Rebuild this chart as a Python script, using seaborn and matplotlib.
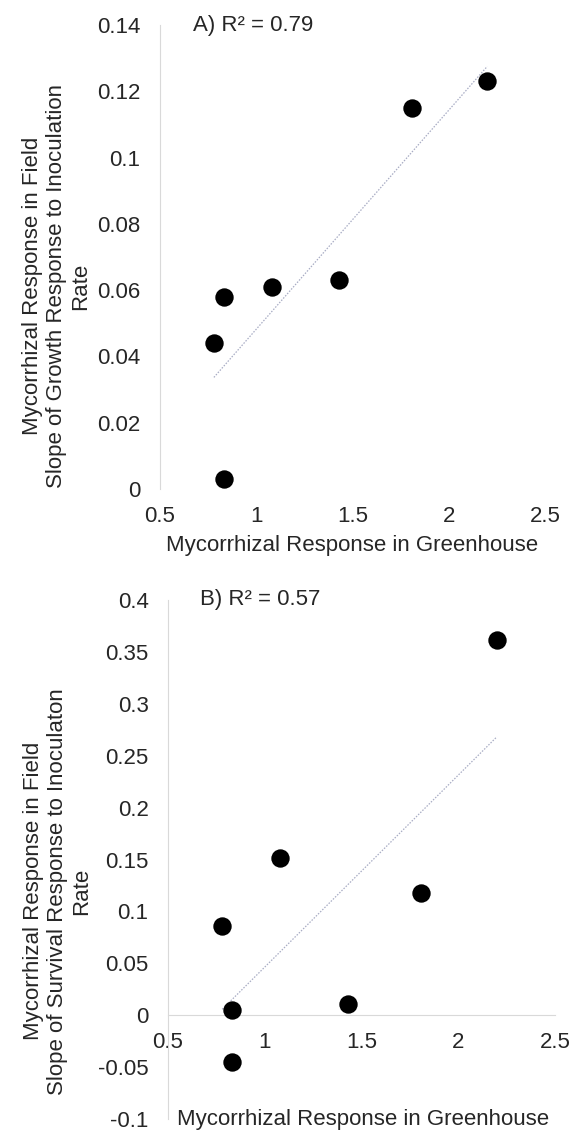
import numpy as np
import pandas as pd
import matplotlib
matplotlib.use("Agg")
import matplotlib.pyplot as plt
import seaborn as sns

# ---- data ----
greenhouse = [0.78, 0.83, 0.83, 1.08, 1.43, 1.81, 2.20]
growth_slope = [0.044, 0.058, 0.003, 0.061, 0.063, 0.115, 0.123]
survival_slope = [0.086, 0.005, -0.045, 0.151, 0.011, 0.118, 0.361]

x_ticks = [0.5, 1, 1.5, 2, 2.5]
x_tick_labels = ["0.5", "1", "1.5", "2", "2.5"]
yA_ticks = [0, 0.02, 0.04, 0.06, 0.08, 0.1, 0.12, 0.14]
yA_tick_labels = ["0", "0.02", "0.04", "0.06", "0.08", "0.1", "0.12", "0.14"]
yB_ticks = [-0.1, -0.05, 0, 0.05, 0.1, 0.15, 0.2, 0.25, 0.3, 0.35, 0.4]
yB_tick_labels = ["-0.1", "-0.05", "0", "0.05", "0.1", "0.15", "0.2", "0.25", "0.3", "0.35", "0.4"]

titleA = "A) R² = 0.79"
titleB = "B) R² = 0.57"
xlabel = "Mycorrhizal Response in Greenhouse"
ylabelA = "Mycorrhizal Response in Field\nSlope of Growth Response to Inoculation\nRate"
ylabelB = "Mycorrhizal Response in Field\nSlope of Survival Response to Inoculaton\nRate"

dfA = pd.DataFrame({"x": greenhouse, "y": growth_slope})
dfB = pd.DataFrame({"x": greenhouse, "y": survival_slope})

sns.set_theme(style="white")
plt.rcParams["font.family"] = ["Liberation Sans", "DejaVu Sans"]

FS = 16
TXT = "#262626"
SPINE = "#d9d9d9"
TREND = "#a8acc4"

fig = plt.figure(figsize=(5.73, 11.3), dpi=100)
axA = fig.add_axes([160 / 573, 1 - 489 / 1130, 385 / 573, 464 / 1130])
axB = fig.add_axes([168 / 573, 1 - 1119 / 1130, 387 / 573, 519 / 1130])


def style(ax, df, yticks, ylabels, ylim, title, ylab, bottom_at_zero, xlab_y, ylab_pos):
    sns.regplot(data=df, x="x", y="y", ax=ax, scatter=False, ci=None,
                line_kws=dict(color=TREND, lw=0.9, ls=(0, (1.2, 1.2)), zorder=1))
    sns.scatterplot(data=df, x="x", y="y", ax=ax, s=175, color="black",
                    edgecolor="black", linewidth=0, zorder=3)
    ax.set_xlim(0.5, 2.5)
    ax.set_ylim(*ylim)
    ax.set_xticks(x_ticks)
    ax.set_xticklabels(x_tick_labels)
    ax.set_yticks(yticks)
    ax.set_yticklabels(ylabels)
    ax.tick_params(axis="both", length=0, labelsize=FS, labelcolor=TXT)
    ax.tick_params(axis="y", pad=14)
    ax.tick_params(axis="x", pad=12)
    for s in ["top", "right"]:
        ax.spines[s].set_visible(False)
    ax.spines["left"].set_color(SPINE)
    ax.spines["left"].set_linewidth(0.8)
    if bottom_at_zero:
        ax.spines["bottom"].set_position(("data", 0))
        ax.spines["bottom"].set_color(SPINE)
        ax.spines["bottom"].set_linewidth(0.8)
    else:
        ax.spines["bottom"].set_visible(False)
    ax.set_xlabel(xlabel, fontsize=FS, color=TXT)
    ax.xaxis.set_label_coords(xlab_y[0], xlab_y[1])
    ax.set_ylabel(ylab, fontsize=FS, color=TXT, linespacing=1.2)
    ax.yaxis.set_label_coords(ylab_pos[0], ylab_pos[1])
    ax.text(title[1], 1.0, title[0], transform=ax.transAxes, fontsize=FS,
            color=TXT, ha="left", va="center")
    ax.grid(False)


style(axA, dfA, yA_ticks, yA_tick_labels, (0, 0.14), (titleA, 0.086), ylabelA,
      False, (0.5, -0.099), (-0.178, 0.4375))
style(axB, dfB, yB_ticks, yB_tick_labels, (-0.1, 0.4), (titleB, 0.083), ylabelB,
      True, (0.504, 0.02), (-0.195, 0.439))

fig.savefig("out.png", dpi=100, facecolor="white")
